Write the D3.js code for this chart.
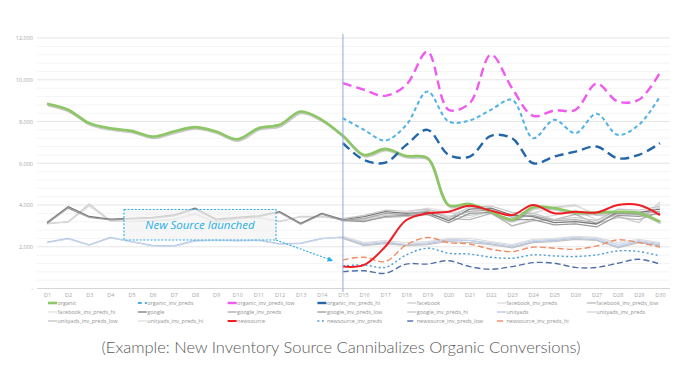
<!DOCTYPE html>
<html>
<head>
<meta charset="utf-8">
<script src="https://cdn.jsdelivr.net/npm/d3@7"></script>
<style>
  html, body { margin: 0; padding: 0; background: #fff; }
  svg { display: block; font-family: "Open Sans", "Liberation Sans", sans-serif; }
</style>
</head>
<body>
<svg id="chart" width="688" height="371"></svg>
<script>
// categories
var days = ['D1','D2','D3','D4','D5','D6','D7','D8','D9','D10','D11','D12','D13','D14','D15',
            'D16','D17','D18','D19','D20','D21','D22','D23','D24','D25','D26','D27','D28','D29','D30'];
var yTicks = [0, 2000, 4000, 6000, 8000, 10000, 12000];
var launchDay = 'D15';

// series values (null = no value that day)
var _ = null;
var organic = [8850, 8560, 7920, 7680, 7550, 7280, 7520, 7730, 7520, 7150, 7680, 7840, 8480, 8080, 7320,
               6400, 6690, 6350, 6250, 4000, 4050, 3680, 3290, 3890, 3850, 3640, 3640, 3680, 3620, 3200];
var organic_inv_preds = [_,_,_,_,_,_,_,_,_,_,_,_,_,_, 8160,
               7600, 7090, 7840, 9440, 8000, 8050, 8560, 9040, 7200, 8080, 7440, 8370, 7360, 7840, 9200];
var organic_inv_preds_low = [_,_,_,_,_,_,_,_,_,_,_,_,_,_, 9840,
               9520, 9230, 9760, 11350, 8560, 8880, 11200, 9600, 8270, 8530, 8560, 9810, 8960, 9040, 10350];
var organic_inv_preds_hi = [_,_,_,_,_,_,_,_,_,_,_,_,_,_, 6960,
               6160, 6030, 6880, 7600, 6400, 6320, 7310, 7200, 6000, 6320, 6560, 6800, 6240, 6400, 6960];

var facebook = [3100, 3200, 4050, 3250, 3200, 3250, 3300, 3600, 3150, 3350, 3400, 3200, 3450, 3450, 3300,
               3350, 3500, 3550, 3750, 3650, 3500, 3650, 3250, 3600, 3900, 4000, 3500, 3450, 3150, 4150];
var facebook_inv_preds = [3130, 3170, 3950, 3230, 3220, 3230, 3320, 3550, 3180, 3330, 3380, 3230, 3430, 3420, 3350,
               3300, 3450, 3500, 3600, 3500, 3400, 3700, 3000, 3350, 3500, 3750, 3300, 3500, 3500, 3900];
var facebook_inv_preds_low = [_,_,_,_,_,_,_,_,_,_,_,_,_,_, 3280,
               3250, 3400, 3450, 3550, 3350, 3300, 3600, 3000, 3250, 3300, 3550, 3100, 3400, 3300, 3650];
var facebook_inv_preds_hi = [_,_,_,_,_,_,_,_,_,_,_,_,_,_, 3330,
               3450, 3550, 3650, 3850, 3700, 3650, 3800, 3400, 3650, 3850, 3950, 3600, 3650, 3450, 4050];

var google = [3160, 3920, 3450, 3320, 3360, 3410, 3520, 3850, 3320, 3410, 3480, 3680, 3120, 3600, 3300,
               3440, 3680, 3600, 3640, 3250, 3800, 3850, 3520, 3440, 3160, 3200, 3090, 3680, 3640, 3800];
var google_inv_preds = [_,_,_,_,_,_,_,_,_,_,_,_,_,_, 3260,
               3350, 3600, 3540, 3700, 3400, 3700, 3750, 3420, 3500, 3250, 3300, 3150, 3600, 3560, 3700];
var google_inv_preds_low = [3110, 3850, 3400, 3290, 3330, 3370, 3480, 3800, 3280, 3370, 3440, 3640, 3080, 3560, 3250,
               3200, 3450, 3500, 3550, 3150, 3600, 3650, 3300, 3300, 3050, 3100, 2950, 3500, 3450, 3600];
var google_inv_preds_hi = [_,_,_,_,_,_,_,_,_,_,_,_,_,_, 3350,
               3500, 3750, 3700, 3800, 3400, 3900, 3950, 3650, 3600, 3300, 3400, 3250, 3800, 3750, 3950];

var unityads = [2220, 2400, 2090, 2450, 2250, 2060, 2040, 2300, 2330, 2300, 2330, 2140, 2170, 2400, 2450,
               2090, 2200, 2090, 2140, 2330, 2300, 2140, 1980, 2250, 2300, 2410, 2330, 2010, 2250, 2090];
var unityads_inv_preds = [2190, 2370, 2070, 2420, 2230, 2040, 2020, 2270, 2300, 2280, 2300, 2120, 2150, 2380, 2480,
               2150, 2250, 2100, 2200, 2350, 2300, 2200, 2050, 2300, 2350, 2450, 2400, 2100, 2300, 2150];
var unityads_inv_preds_low = [_,_,_,_,_,_,_,_,_,_,_,_,_,_, 2400,
               2050, 2150, 2050, 2100, 2250, 2200, 2100, 1950, 2200, 2250, 2350, 2300, 1950, 2200, 2050];
var unityads_inv_preds_hi = [_,_,_,_,_,_,_,_,_,_,_,_,_,_, 2500,
               2200, 2300, 2200, 2250, 2400, 2400, 2250, 2100, 2350, 2400, 2500, 2450, 2200, 2350, 2200];

var newsource = [_,_,_,_,_,_,_,_,_,_,_,_,_,_, 1050,
               1130, 2000, 3280, 3600, 3680, 3960, 3730, 3520, 4000, 3600, 3680, 3640, 4000, 4000, 3520];
var newsource_inv_preds = [_,_,_,_,_,_,_,_,_,_,_,_,_,_, 1080,
               1130, 1010, 1610, 1930, 1690, 1650, 1500, 1450, 1610, 1560, 1530, 1610, 1800, 1770, 1560];
var newsource_inv_preds_low = [_,_,_,_,_,_,_,_,_,_,_,_,_,_, 810,
               850, 730, 1170, 1170, 1330, 1050, 920, 1050, 1240, 1210, 1010, 1010, 1210, 1400, 1170];
var newsource_inv_preds_hi = [_,_,_,_,_,_,_,_,_,_,_,_,_,_, 1370,
               1500, 1290, 2090, 2440, 2200, 2130, 1880, 1770, 1980, 1930, 1880, 2040, 2330, 2200, 1980];

var seriesNames = ['organic','organic_inv_preds','organic_inv_preds_low','organic_inv_preds_hi',
  'facebook','facebook_inv_preds','facebook_inv_preds_low','facebook_inv_preds_hi',
  'google','google_inv_preds','google_inv_preds_low','google_inv_preds_hi',
  'unityads','unityads_inv_preds','unityads_inv_preds_low','unityads_inv_preds_hi',
  'newsource','newsource_inv_preds','newsource_inv_preds_low','newsource_inv_preds_hi'];
var seriesValues = [organic, organic_inv_preds, organic_inv_preds_low, organic_inv_preds_hi,
  facebook, facebook_inv_preds, facebook_inv_preds_low, facebook_inv_preds_hi,
  google, google_inv_preds, google_inv_preds_low, google_inv_preds_hi,
  unityads, unityads_inv_preds, unityads_inv_preds_low, unityads_inv_preds_hi,
  newsource, newsource_inv_preds, newsource_inv_preds_low, newsource_inv_preds_hi];

var caption = '(Example: New Inventory Source Cannibalizes Organic Conversions)';
var annotation = 'New Source launched';

// styles per series
var styles = {
  organic:                 { color: '#8cc665', width: 2.6, smooth: true, shadow: true, order: 6 },
  organic_inv_preds:       { color: '#4fb2e3', width: 2, dash: '4,3', smooth: true, order: 7 },
  organic_inv_preds_low:   { color: '#ee5bee', width: 2.4, dash: '9,5', smooth: true, order: 7 },
  organic_inv_preds_hi:    { color: '#2467a8', width: 2.4, dash: '9,5', smooth: true, order: 7 },
  facebook:                { color: '#cdcdcd', width: 1.3, order: 1 },
  facebook_inv_preds:      { color: '#dadada', width: 1.2, order: 1 },
  facebook_inv_preds_low:  { color: '#b8b8b8', width: 1.2, order: 1 },
  facebook_inv_preds_hi:   { color: '#e2e2e2', width: 1.2, order: 1 },
  google:                  { color: '#7a7a7a', width: 1.3, order: 2 },
  google_inv_preds:        { color: '#ababab', width: 1.2, order: 2 },
  google_inv_preds_low:    { color: '#9a9a9a', width: 1.2, order: 2 },
  google_inv_preds_hi:     { color: '#c6c6c6', width: 1.2, order: 2 },
  unityads:                { color: '#b3c6e6', width: 1.3, order: 1 },
  unityads_inv_preds:      { color: '#c9d5ea', width: 1.2, order: 1 },
  unityads_inv_preds_low:  { color: '#c3c3c3', width: 1.2, order: 1 },
  unityads_inv_preds_hi:   { color: '#dedede', width: 1.2, order: 1 },
  newsource:               { color: '#f01d24', width: 2, smooth: true, order: 9 },
  newsource_inv_preds:     { color: '#4a9ad8', width: 1.4, dash: '2,2.5', smooth: true, order: 8 },
  newsource_inv_preds_low: { color: '#4f6fa8', width: 1.4, dash: '6,3', smooth: true, order: 8 },
  newsource_inv_preds_hi:  { color: '#ef8c62', width: 1.4, dash: '6,3', smooth: true, order: 8 }
};

var svg = d3.select('#chart');

var x = d3.scalePoint().domain(days).range([47, 660]);
var y = d3.scaleLinear().domain([0, 12000]).range([288.5, 38]);

// gridlines: minor every 400, major every 2000
var grid = svg.append('g');
grid.selectAll('line.minor')
  .data(d3.range(400, 12001, 400).filter(function(v) { return v % 2000 !== 0; }))
  .enter().append('line')
  .attr('x1', 37).attr('x2', 670)
  .attr('y1', function(d) { return y(d); })
  .attr('y2', function(d) { return y(d); })
  .style('stroke', '#f1f1f1').style('stroke-width', 0.8);
grid.selectAll('line.major')
  .data(yTicks)
  .enter().append('line')
  .attr('x1', 37).attr('x2', 670)
  .attr('y1', function(d) { return y(d); })
  .attr('y2', function(d) { return y(d); })
  .style('stroke', function(d) { return d === 0 ? '#d0d0d0' : '#e2e2e2'; })
  .style('stroke-width', 0.9);

// y axis labels
var yAxis = d3.axisLeft(y).tickValues(yTicks).tickSize(0).tickPadding(0)
  .tickFormat(function(d) { return d === 0 ? '-' : d3.format(',')(d); });
svg.append('g').attr('transform', 'translate(33,0)').call(yAxis)
  .call(function(g) { g.select('.domain').remove(); })
  .selectAll('text')
  .style('font-size', '5.5px').style('fill', '#a6a6a6')
  .style('font-family', '"Open Sans", sans-serif');

// x axis labels
var xAxis = d3.axisBottom(x).tickSize(0).tickPadding(5);
svg.append('g').attr('transform', 'translate(0,288.5)').call(xAxis)
  .call(function(g) { g.select('.domain').remove(); })
  .selectAll('text')
  .style('font-size', '5.5px').style('fill', '#a6a6a6')
  .style('font-family', '"Open Sans", sans-serif');

// series
var series = seriesNames.map(function(name, i) {
  return { name: name, values: seriesValues[i], style: styles[name] };
});

function lineFor(s) {
  return d3.line()
    .defined(function(d) { return d != null; })
    .x(function(d, i) { return x(days[i]); })
    .y(function(d) { return y(d); })
    .curve(s.style.smooth ? d3.curveCatmullRom.alpha(0.5) : d3.curveLinear);
}

var drawOrder = series.slice().sort(function(a, b) { return a.style.order - b.style.order; });
var lines = svg.append('g');

drawOrder.forEach(function(s) {
  if (s.style.shadow) {
    lines.append('path')
      .attr('d', lineFor(s)(s.values))
      .attr('transform', 'translate(0.8,1.4)')
      .style('fill', 'none')
      .style('stroke', '#8a8a8a')
      .style('stroke-opacity', 0.45)
      .style('stroke-width', s.style.width);
  }
  lines.append('path')
    .attr('d', lineFor(s)(s.values))
    .style('fill', 'none')
    .style('stroke', s.style.color)
    .style('stroke-width', s.style.width)
    .style('stroke-dasharray', s.style.dash || null)
    .style('stroke-linejoin', 'round');
});

// launch marker
svg.append('line')
  .attr('x1', x(launchDay)).attr('x2', x(launchDay))
  .attr('y1', 34).attr('y2', 292)
  .style('stroke', '#8ea9db').style('stroke-width', 1);

// annotation
var defs = svg.append('defs');
defs.append('marker')
  .attr('id', 'arrow').attr('viewBox', '0 0 10 10')
  .attr('refX', 8).attr('refY', 5)
  .attr('markerWidth', 5).attr('markerHeight', 5)
  .attr('orient', 'auto')
  .append('path').attr('d', 'M0,0L10,5L0,10z').style('fill', '#29aee6');

var ann = svg.append('g');
ann.append('rect')
  .attr('x', 124).attr('y', 209.5).attr('width', 152).attr('height', 30.5)
  .style('fill', '#f2f2f2').style('fill-opacity', 0.7)
  .style('stroke', '#29aee6').style('stroke-width', 1.1)
  .style('stroke-dasharray', '2,1.6');
ann.append('line')
  .attr('x1', 276).attr('y1', 240).attr('x2', 332).attr('y2', 260.5)
  .style('stroke', '#29aee6').style('stroke-width', 1.1)
  .style('stroke-dasharray', '2,1.6')
  .attr('marker-end', 'url(#arrow)');
ann.append('text')
  .attr('x', 200).attr('y', 228.5)
  .attr('text-anchor', 'middle')
  .style('font-size', '11.5px').style('font-style', 'italic')
  .style('fill', '#1eaee8')
  .text(annotation);

// legend
var legend = svg.append('g');
var entries = legend.selectAll('g.legendEntry')
  .data(series)
  .enter().append('g')
  .classed('legendEntry', true)
  .attr('transform', function(d, i) {
    return 'translate(' + (48 + (i % 7) * 89.8) + ',' + (303 + Math.floor(i / 7) * 9) + ')';
  });
entries.append('line')
  .attr('x1', 0).attr('x2', 9).attr('y1', 0).attr('y2', 0)
  .style('stroke', function(d) { return d.style.color; })
  .style('stroke-width', function(d) { return Math.max(1.3, d.style.width); })
  .style('stroke-dasharray', function(d) { return d.style.dash || null; });
entries.append('text')
  .attr('x', 9.5).attr('y', 2)
  .style('font-size', '5.5px').style('fill', '#939393')
  .text(function(d) { return d.name; });

// caption
svg.append('text')
  .attr('x', 341).attr('y', 353)
  .attr('text-anchor', 'middle')
  .style('font-family', 'Lato, "Open Sans", sans-serif')
  .style('font-weight', 300)
  .style('font-size', '16.5px')
  .style('fill', '#595959')
  .text(caption);
</script>
</body>
</html>
